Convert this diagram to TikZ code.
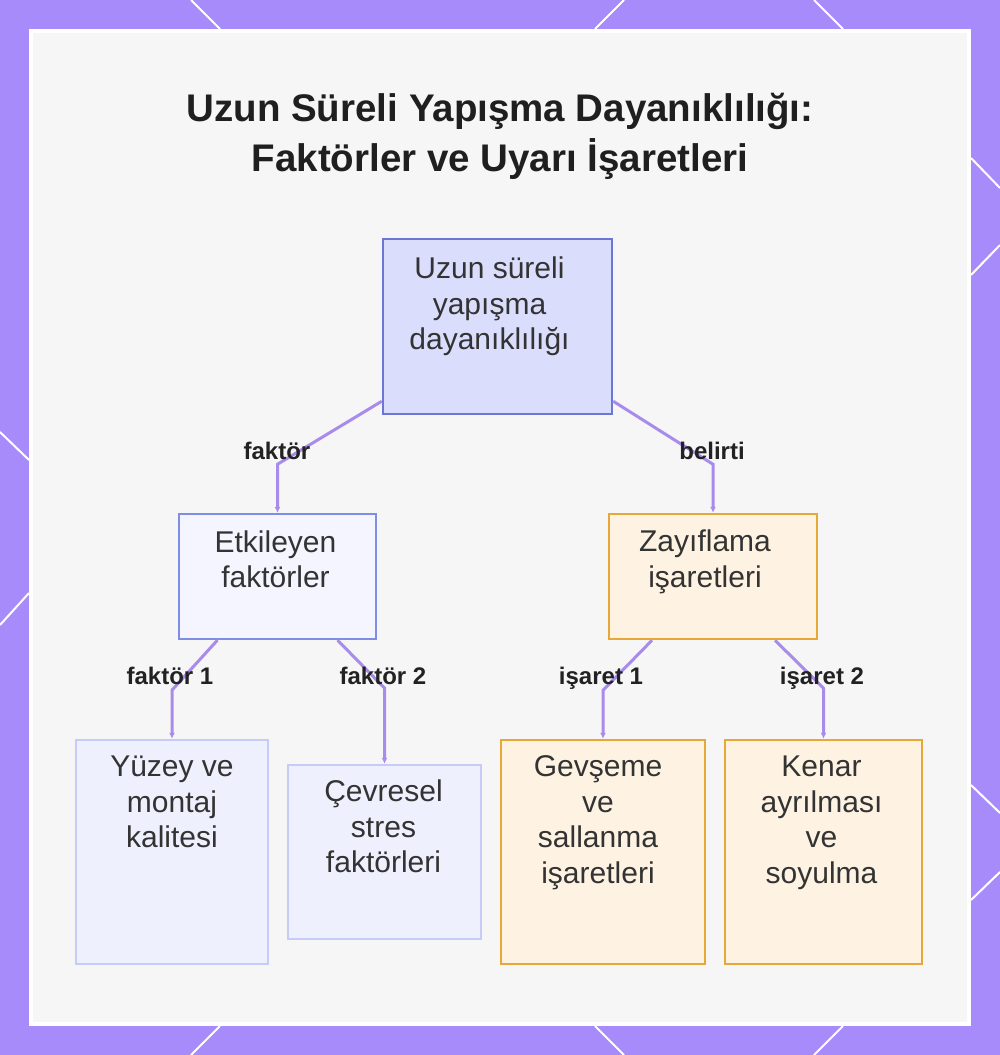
\documentclass[tikz,border=0pt]{standalone}
\usepackage{fontspec}
\setmainfont{Liberation Sans}
\usetikzlibrary{calc,arrows.meta}
\definecolor{purp}{HTML}{A78BFA}
\definecolor{panelbg}{HTML}{F6F6F7}
\definecolor{conncol}{HTML}{A98BEB}
\definecolor{rootfill}{HTML}{DADDFC}
\definecolor{rootdraw}{HTML}{6B77D6}
\definecolor{midfill}{HTML}{F4F5FE}
\definecolor{middraw}{HTML}{7E8EE2}
\definecolor{leaffill}{HTML}{EEF0FD}
\definecolor{leafdraw}{HTML}{C6CCF7}
\definecolor{orfill}{HTML}{FEF3E3}
\definecolor{ordraw}{HTML}{E8A838}
\definecolor{txtcol}{HTML}{333333}
\definecolor{titlecol}{HTML}{1F1F1F}
\definecolor{labcol}{HTML}{222222}
\tikzset{
  rootbox/.style={draw=rootdraw, fill=rootfill, line width=2.5pt, inner sep=0pt},
  midbox/.style={draw=middraw, fill=midfill, line width=2.2pt, inner sep=0pt},
  leafbox/.style={draw=leafdraw, fill=leaffill, line width=2.5pt, inner sep=0pt},
  orbox/.style={draw=ordraw, fill=orfill, line width=2.5pt, inner sep=0pt},
  boxtext/.style={anchor=north, inner sep=0pt, align=center, text=txtcol,
    font=\fontsize{30}{35.5}\selectfont},
  edgelab/.style={anchor=base, inner sep=0pt, text=labcol,
    font=\fontsize{24}{28}\selectfont\bfseries},
  conn/.style={draw=conncol, line width=3pt, -{Latex[length=6pt,width=6pt]}},
  deco/.style={draw=white, line width=2pt}
}
\newcommand{\firstline}{\rule{0pt}{30pt}}
\begin{document}
\begin{tikzpicture}[x=1pt,y=-1pt]
\useasboundingbox (0,0) rectangle (1000,1055);
% frame
\fill[purp] (0,0) rectangle (1000,1055);
\fill[white] (29,29) rectangle (971,1026);
\fill[panelbg] (33,33) rectangle (967,1022);
% decorative white strokes in the frame
\draw[deco] (191,0) -- (220,29);
\draw[deco] (624,0) -- (595,29);
\draw[deco] (814,0) -- (843,29);
\draw[deco] (220,1026) -- (191,1055);
\draw[deco] (595,1026) -- (624,1055);
\draw[deco] (843,1026) -- (814,1055);
\draw[deco] (0,432) -- (29,460);
\draw[deco] (29,593) -- (0,625);
\draw[deco] (971,158) -- (1000,188);
\draw[deco] (971,275) -- (1000,245);
\draw[deco] (971,785) -- (1000,813);
\draw[deco] (971,900) -- (1000,872);
% title
\node[anchor=north, inner sep=0pt, align=center, text=titlecol,
  font=\fontsize{38.5}{50}\selectfont\bfseries] (title) at (500,81)
  {\rule{0pt}{40pt}Uzun Süreli Yapışma Dayanıklılığı:\\Faktörler ve Uyarı İşaretleri};
% boxes
\node[rootbox, minimum width=229pt, minimum height=175pt] (root) at (497.5,326.5) {};
\node[midbox, minimum width=197pt, minimum height=125pt] (et) at (277.5,576.5) {};
\node[orbox, minimum width=208pt, minimum height=125pt] (za) at (713,576.5) {};
\node[leafbox, minimum width=192pt, minimum height=224pt] (yu) at (172,852) {};
\node[leafbox, minimum width=193pt, minimum height=174pt] (ce) at (384.5,852) {};
\node[orbox, minimum width=204pt, minimum height=224pt] (ge) at (603,852) {};
\node[orbox, minimum width=197pt, minimum height=224pt] (ke) at (823.5,852) {};
% box texts
\node[boxtext] (rootT) at ($(root.north)+(-8,11)$) {\firstline Uzun süreli\\yapışma\\dayanıklılığı};
\node[boxtext] (etT) at ($(et.north)+(-2,9)$) {\firstline Etkileyen\\faktörler};
\node[boxtext] (zaT) at ($(za.north)+(-8,9)$) {\firstline Zayıflama\\işaretleri};
\node[boxtext] (yuT) at ($(yu.north)+(0,8)$) {\firstline Yüzey ve\\montaj\\kalitesi};
\node[boxtext] (ceT) at ($(ce.north)+(-1,8)$) {\firstline Çevresel\\stres\\faktörleri};
\node[boxtext] (geT) at ($(ge.north)+(-5,8)$) {\firstline Gevşeme\\ve\\sallanma\\işaretleri};
\node[boxtext] (keT) at ($(ke.north)+(-2,8)$) {\firstline Kenar\\ayrılması\\ve\\soyulma};
% bend helpers
\coordinate (rootb) at ($(root.south)+(0,49)$);
\coordinate (etb) at ($(et.south)+(0,50)$);
\coordinate (zab) at ($(za.south)+(0,50)$);
% connectors
\draw[conn] ($(root.south west)+(0,-14)$) -- (rootb -| et.north) -- (et.north);
\draw[conn] ($(root.south east)+(0,-14)$) -- (rootb -| za.north) -- (za.north);
\draw[conn] ($(et.south)+(-60,0)$) -- (etb -| yu.north) -- (yu.north);
\draw[conn] ($(et.south)+(60,0)$) -- ($(etb -| ce.north)+(0,-2)$) -- (ce.north);
\draw[conn] ($(za.south)+(-61,0)$) -- (zab -| ge.north) -- (ge.north);
\draw[conn] ($(za.south)+(62,0)$) -- ($(zab -| ke.north)+(0,-2)$) -- (ke.north);
% edge labels
\node[edgelab] (l1) at (277,459) {faktör};
\node[edgelab] (l2) at (712,459) {belirti};
\node[edgelab] (l3) at (170,684) {faktör 1};
\node[edgelab] (l4) at (383,684) {faktör 2};
\node[edgelab] (l5) at (601,684) {işaret 1};
\node[edgelab] (l6) at (822,684) {işaret 2};
\end{tikzpicture}
\end{document}
